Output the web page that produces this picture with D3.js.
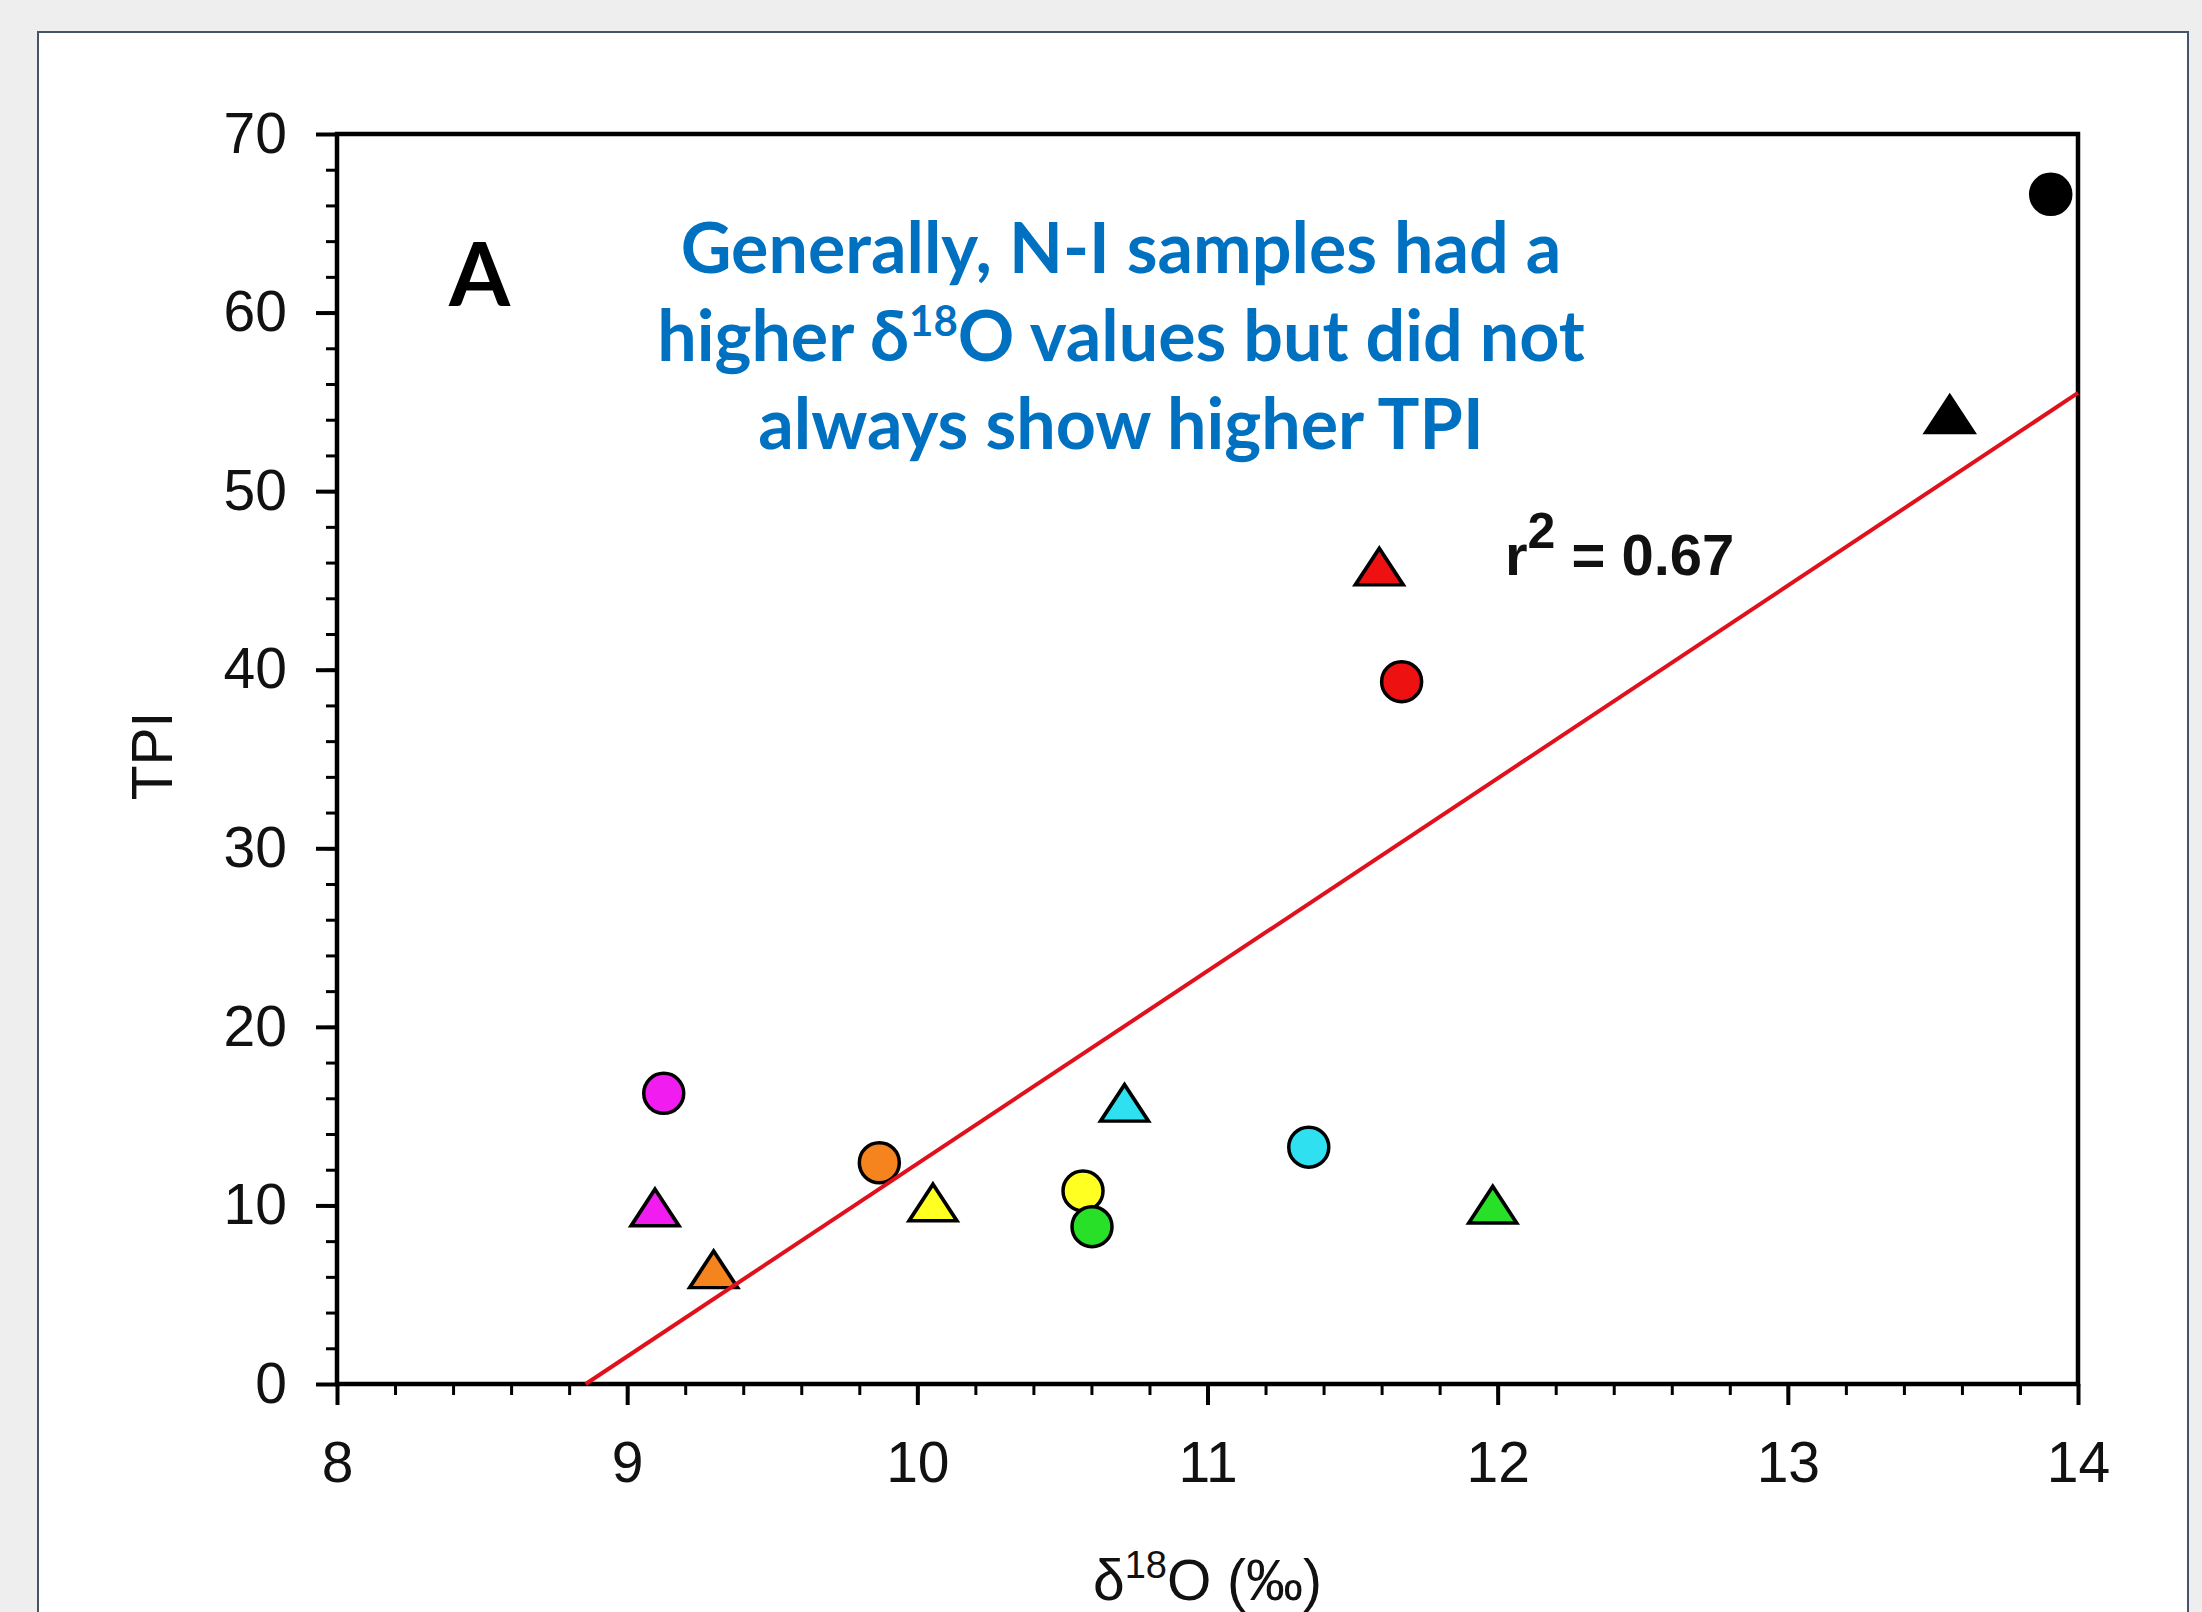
<!DOCTYPE html>
<html>
<head>
<meta charset="utf-8">
<style>
  html, body { margin: 0; padding: 0; background: #eeeeee; }
  svg { display: block; }
  .tick text { font-family: "Liberation Sans", Arial, sans-serif; font-size: 57px; fill: #111; }
  .axis path, .axis line { stroke: #000; }
</style>
</head>
<body>
<script src="https://cdn.jsdelivr.net/npm/d3@7"></script>
<script>
// sample data
const circleX = [13.906, 11.669, 9.126, 9.869, 10.571, 10.602, 11.349];
const circleY = [66.62, 39.33, 16.28, 12.39, 10.81, 8.81, 13.26];
const circleColor = ['#000000', '#ee1111', '#f01cf0', '#f5841f', '#ffff22', '#28e028', '#2ee0f0'];

const triX = [13.558, 11.592, 9.096, 9.298, 10.054, 11.983, 10.714];
const triY = [54.13, 45.6, 9.71, 6.25, 9.99, 9.87, 15.57];
const triColor = ['#000000', '#ee1111', '#f01cf0', '#f5841f', '#ffff22', '#28e028', '#2ee0f0'];

// regression line end points
const fitX = [8.857, 14];
const fitY = [0, 55.5];

const xTicks = [8, 9, 10, 11, 12, 13, 14];
const yTicks = [0, 10, 20, 30, 40, 50, 60, 70];

const noteLines = ['Generally, N-I samples had a', 'higher δ', 'always show higher TPI'];

const W = 2202, H = 1612;
const margin = {left: 337, right: W - 2078, top: 134, bottom: H - 1384};

const svg = d3.select('body').append('svg')
  .attr('width', W)
  .attr('height', H);

// page background + white panel
svg.append('rect').attr('width', W).attr('height', H).attr('fill', '#eeeeee');
svg.append('rect')
  .attr('x', 38).attr('y', 32)
  .attr('width', 2150).attr('height', H)
  .attr('fill', '#ffffff')
  .attr('stroke', '#44546a')
  .attr('stroke-width', 2);

const x = d3.scaleLinear().domain([8, 14]).range([margin.left, W - margin.right]);
const y = d3.scaleLinear().domain([0, 70]).range([H - margin.bottom, margin.top]);

// minor ticks
svg.append('g')
  .attr('class', 'axis')
  .attr('transform', `translate(0,${y(0)})`)
  .call(d3.axisBottom(x).tickValues(d3.range(8, 14.01, 0.2)).tickSize(11).tickFormat(''))
  .call(g => g.selectAll('line').attr('stroke-width', 3))
  .call(g => g.select('.domain').remove());
svg.append('g')
  .attr('class', 'axis')
  .attr('transform', `translate(${x(8)},0)`)
  .call(d3.axisLeft(y).tickValues(d3.range(0, 70.01, 2)).tickSize(11).tickFormat(''))
  .call(g => g.selectAll('line').attr('stroke-width', 3))
  .call(g => g.select('.domain').remove());

// major ticks
svg.append('g')
  .attr('class', 'axis')
  .attr('transform', `translate(0,${y(0)})`)
  .call(d3.axisBottom(x).tickValues(xTicks).tickSize(21).tickSizeOuter(0).tickPadding(37).tickFormat(d3.format('d')))
  .call(g => g.selectAll('line').attr('stroke-width', 4))
  .call(g => g.select('.domain').remove());
svg.append('g')
  .attr('class', 'axis')
  .attr('transform', `translate(${x(8)},0)`)
  .call(d3.axisLeft(y).tickValues(yTicks).tickSize(21).tickSizeOuter(0).tickPadding(29).tickFormat(d3.format('d')))
  .call(g => g.selectAll('line').attr('stroke-width', 4))
  .call(g => g.select('.domain').remove());

// frame
svg.append('rect')
  .attr('x', x(8)).attr('y', y(70))
  .attr('width', x(14) - x(8)).attr('height', y(0) - y(70))
  .attr('fill', 'none')
  .attr('stroke', '#000')
  .attr('stroke-width', 4.5);

// circles
svg.append('g').selectAll('circle')
  .data(circleX.map((d, i) => ({x: d, y: circleY[i], c: circleColor[i]})))
  .join('circle')
  .attr('cx', d => x(d.x))
  .attr('cy', d => y(d.y))
  .attr('r', 20)
  .attr('fill', d => d.c)
  .attr('stroke', '#000')
  .attr('stroke-width', 3.5);

// triangles
const tri = d3.symbol().type(d3.symbolTriangle).size(820);
svg.append('g').selectAll('path')
  .data(triX.map((d, i) => ({x: d, y: triY[i], c: triColor[i]})))
  .join('path')
  .attr('d', tri)
  .attr('transform', d => `translate(${x(d.x)},${y(d.y) + 3}) scale(1.1,0.97)`)
  .attr('fill', d => d.c)
  .attr('stroke', '#000')
  .attr('stroke-width', 3.5)
  .attr('stroke-linejoin', 'miter');

// fit line, drawn over the points
svg.append('path')
  .datum(fitX.map((d, i) => [d, fitY[i]]))
  .attr('d', d3.line().x(d => x(d[0])).y(d => y(d[1])))
  .attr('fill', 'none')
  .attr('stroke', '#e0101c')
  .attr('stroke-width', 4);

// axis titles
svg.append('text')
  .attr('transform', 'translate(172,756) rotate(-90)')
  .attr('text-anchor', 'middle')
  .style('font-family', '"Liberation Sans", Arial, sans-serif')
  .style('font-size', '57px')
  .attr('fill', '#111')
  .text('TPI');

const xt = svg.append('text')
  .attr('x', (x(8) + x(14)) / 2)
  .attr('y', 1600)
  .attr('text-anchor', 'middle')
  .style('font-family', '"Liberation Sans", Arial, sans-serif')
  .style('font-size', '57px')
  .attr('fill', '#111');
xt.append('tspan').text('δ');
xt.append('tspan').attr('dy', -22).style('font-size', '38px').text('18');
xt.append('tspan').attr('dy', 22).text('O (‰)');

// panel letter
svg.append('text')
  .attr('x', 449).attr('y', 306)
  .style('font-family', 'Lato, sans-serif')
  .style('font-weight', 700)
  .style('font-size', '88px')
  .attr('fill', '#000')
  .text('A');

// note
const note = svg.append('g')
  .style('font-family', 'Lato, sans-serif')
  .style('font-weight', 700)
  .style('font-size', '70px')
  .attr('fill', '#0070c0')
  .attr('text-anchor', 'middle');
note.append('text').attr('x', 1121).attr('y', 273).text(noteLines[0]);
const l2 = note.append('text').attr('x', 1121).attr('y', 361);
l2.append('tspan').text(noteLines[1]);
l2.append('tspan').attr('dy', -25).style('font-size', '42px').text('18');
l2.append('tspan').attr('dy', 25).text('O values but did not');
note.append('text').attr('x', 1121).attr('y', 449).text(noteLines[2]);

// r squared
const r2 = svg.append('text')
  .attr('x', 1505).attr('y', 575)
  .style('font-family', '"Liberation Sans", Arial, sans-serif')
  .style('font-weight', 700)
  .style('font-size', '58px')
  .attr('fill', '#111');
r2.append('tspan').text('r');
r2.append('tspan').attr('dy', -27).style('font-size', '50px').text('2');
r2.append('tspan').attr('dy', 27).text(' = 0.67');
</script>
</body>
</html>
